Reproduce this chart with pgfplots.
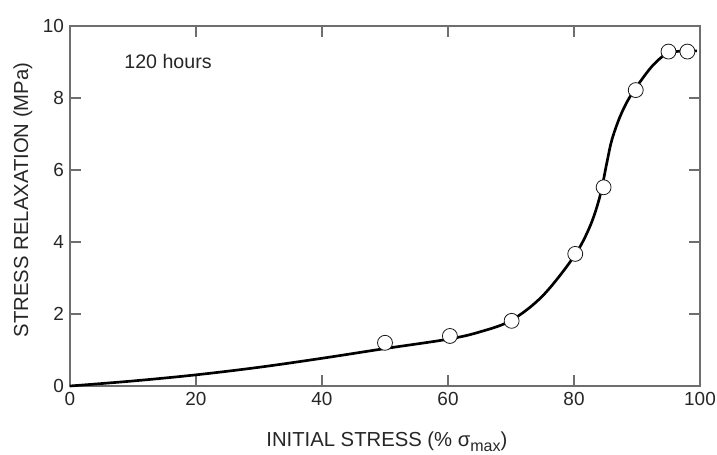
\documentclass[border=0pt]{standalone}
\usepackage{fontspec}
\setmainfont{Liberation Sans}
\usepackage{pgfplots}
\pgfplotsset{compat=1.18}
\begin{document}
\begin{tikzpicture}
\definecolor{axgray}{RGB}{110,110,110}
\begin{axis}[
    scale only axis,
    width=472.5pt, height=270pt,
    xmin=0, xmax=100, ymin=0, ymax=10,
    xtick={0,20,40,60,80,100},
    ytick={0,2,4,6,8,10},
    tick align=inside,
    major tick length=8.5pt,
    axis line style={axgray, line width=0.8pt},
    every tick/.style={axgray, line width=0.8pt},
    /pgf/number format/assume math mode=true,
    ticklabel style={font=\fontsize{14.2}{17}\selectfont, text=black!85},
    xticklabel style={yshift=-1pt},
    yticklabel style={xshift=-1pt},
    xlabel={INITIAL STRESS (\% σ\raisebox{-0.55ex}{\fontsize{12}{14}\selectfont max})},
    ylabel={STRESS RELAXATION (MPa)},
    label style={font=\fontsize{15.2}{18}\selectfont, text=black!85},
    x label style={at={(axis description cs:0.503,0)}, anchor=base, yshift=-45pt},
    y label style={at={(axis description cs:-0.0746,0.517)}, anchor=center},
    clip=false,
]
% fitted curve
\addplot[black, line width=2pt, smooth, tension=0.55] coordinates {
    (0,0) (10,0.14) (20,0.31) (30,0.52) (40,0.77) (50,1.04) (60,1.3)
    (65,1.5) (70,1.82) (75,2.5) (80,3.6) (82.5,4.42) (84.1,5.26) (85.2,6.19)
    (86,6.83) (87.3,7.48) (88.9,8.04) (91.5,8.69) (93.1,9.01) (94.9,9.25)
    (97,9.3) (99.5,9.31)
};
% measured points
\addplot[only marks, mark=*, mark size=5.6pt,
    mark options={fill=white, draw=black!90, line width=0.6pt}] coordinates {
    (50,1.2) (60.3,1.39) (70.1,1.81) (80.2,3.67) (84.7,5.52)
    (89.8,8.22) (95,9.29) (98,9.29)
};
\node[anchor=base west, font=\fontsize{14.7}{17}\selectfont, text=black!85, inner sep=0pt]
    at (axis cs:8.6,8.81) {120 hours};
\coordinate (sw) at (rel axis cs:0,0);
\coordinate (ne) at (rel axis cs:1,1);
\end{axis}
\pgfresetboundingbox
\path ([shift={(-52.5pt,-51pt)}]sw) rectangle ([shift={(12.75pt,19.5pt)}]ne);
\end{tikzpicture}
\end{document}
